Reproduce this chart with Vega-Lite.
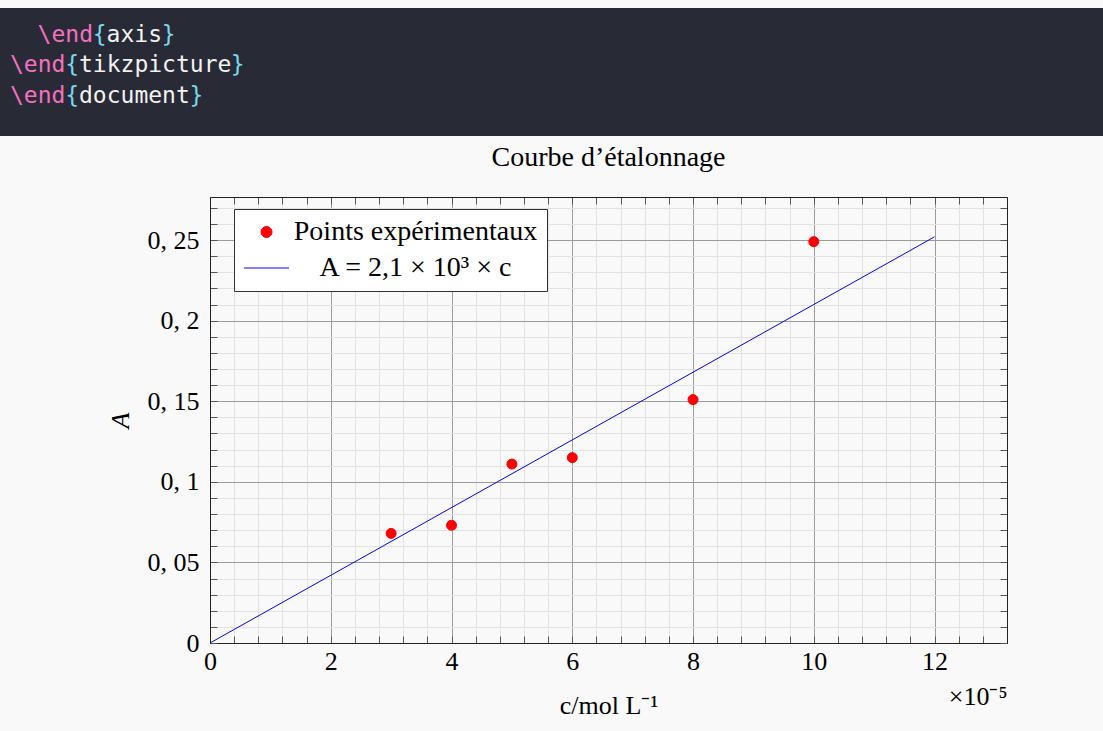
{
  "$schema": "https://vega.github.io/schema/vega-lite/v6.json",
  "background": "#f9f9f9",
  "padding": {"top": 8, "left": 0, "right": 0, "bottom": 30},
  "spacing": 7,
  "resolve": {"scale": {"color": "independent", "stroke": "independent", "shape": "independent"}, "legend": {"color": "independent", "stroke": "independent", "shape": "independent"}},
  "datasets": {
    "code": [
      {"line": 1, "col": 2, "txt": "\\end", "kind": "cmd"},
      {"line": 1, "col": 6, "txt": "{", "kind": "brace"},
      {"line": 1, "col": 7, "txt": "axis", "kind": "word"},
      {"line": 1, "col": 11, "txt": "}", "kind": "brace"},
      {"line": 2, "col": 0, "txt": "\\end", "kind": "cmd"},
      {"line": 2, "col": 4, "txt": "{", "kind": "brace"},
      {"line": 2, "col": 5, "txt": "tikzpicture", "kind": "word"},
      {"line": 2, "col": 16, "txt": "}", "kind": "brace"},
      {"line": 3, "col": 0, "txt": "\\end", "kind": "cmd"},
      {"line": 3, "col": 4, "txt": "{", "kind": "brace"},
      {"line": 3, "col": 5, "txt": "document", "kind": "word"},
      {"line": 3, "col": 13, "txt": "}", "kind": "brace"}
    ],
    "points": [
      {"c": 3, "A": 0.068, "serie": "Points expérimentaux"},
      {"c": 4, "A": 0.073, "serie": "Points expérimentaux"},
      {"c": 5, "A": 0.111, "serie": "Points expérimentaux"},
      {"c": 6, "A": 0.115, "serie": "Points expérimentaux"},
      {"c": 8, "A": 0.151, "serie": "Points expérimentaux"},
      {"c": 10, "A": 0.249, "serie": "Points expérimentaux"}
    ],
    "fit": [
      {"c": 0, "A": 0},
      {"c": 12, "A": 0.252}
    ]
  },
  "vconcat": [
    {
      "width": 1103,
      "height": 128,
      "view": {"fill": "#282a36", "stroke": null},
      "data": {"name": "code"},
      "mark": {"type": "text", "font": "DejaVu Sans Mono", "fontSize": 23, "align": "left", "baseline": "alphabetic"},
      "encoding": {
        "x": {"field": "col", "type": "quantitative", "scale": {"domain": [-0.725, 79.2], "nice": false, "zero": false}, "axis": null},
        "y": {"field": "line", "type": "quantitative", "scale": {"domain": [-0.0894, 4.073], "nice": false, "zero": false, "reverse": true}, "axis": null},
        "text": {"field": "txt"},
        "color": {"field": "kind", "type": "nominal", "scale": {"domain": ["cmd", "brace", "word"], "range": ["#f272c0", "#79d7ef", "#f2f2f2"]}, "legend": null}
      }
    },
    {
      "bounds": "flush",
      "spacing": 10,
      "resolve": {"scale": {"color": "independent", "stroke": "independent", "shape": "independent"}, "legend": {"color": "independent", "stroke": "independent", "shape": "independent"}},
      "hconcat": [
        {
          "width": 200,
          "height": 446,
          "view": {"stroke": null},
          "data": {"values": [{}]},
          "mark": {"type": "point", "opacity": 0}
        },
        {
          "width": 797,
          "height": 446,
          "view": {"stroke": null},
          "title": {"text": "Courbe d’étalonnage", "font": "Liberation Serif", "fontSize": 28, "fontWeight": "normal", "color": "#000000", "anchor": "middle", "frame": "group", "baseline": "alphabetic", "offset": 3},
          "resolve": {"axis": {"x": "independent", "y": "independent"}},
          "layer": [
            {
              "data": {"name": "fit"},
              "mark": {"type": "line", "opacity": 0},
              "encoding": {
                "x": {"field": "c", "type": "quantitative", "scale": {"domain": [0, 13.2], "nice": false, "zero": false},
                  "axis": {"orient": "bottom", "values": [0, 0.4, 0.8, 1.2, 1.6, 2, 2.4, 2.8, 3.2, 3.6, 4, 4.4, 4.8, 5.2, 5.6, 6, 6.4, 6.8, 7.2, 7.6, 8, 8.4, 8.8, 9.2, 9.6, 10, 10.4, 10.8, 11.2, 11.6, 12, 12.4, 12.8, 13.2],
                    "grid": true, "gridColor": "#e2e2e2", "gridWidth": 1, "labels": false, "domain": false, "ticks": true, "tickSize": -7, "tickColor": "#555555", "tickWidth": 1, "title": null}},
                "y": {"field": "A", "type": "quantitative", "scale": {"domain": [0, 0.2767], "nice": false, "zero": false},
                  "axis": {"orient": "left", "values": [0, 0.01, 0.02, 0.03, 0.04, 0.05, 0.06, 0.07, 0.08, 0.09, 0.1, 0.11, 0.12, 0.13, 0.14, 0.15, 0.16, 0.17, 0.18, 0.19, 0.2, 0.21, 0.22, 0.23, 0.24, 0.25, 0.26, 0.27],
                    "grid": true, "gridColor": "#e2e2e2", "gridWidth": 1, "labels": false, "domain": false, "ticks": true, "tickSize": -7, "tickColor": "#555555", "tickWidth": 1, "title": null}}
              }
            },
            {
              "data": {"name": "fit"},
              "mark": {"type": "line", "opacity": 0},
              "encoding": {
                "x": {"field": "c", "type": "quantitative", "scale": {"domain": [0, 13.2], "nice": false, "zero": false},
                  "axis": {"orient": "top", "values": [0, 0.4, 0.8, 1.2, 1.6, 2, 2.4, 2.8, 3.2, 3.6, 4, 4.4, 4.8, 5.2, 5.6, 6, 6.4, 6.8, 7.2, 7.6, 8, 8.4, 8.8, 9.2, 9.6, 10, 10.4, 10.8, 11.2, 11.6, 12, 12.4, 12.8, 13.2],
                    "grid": false, "labels": false, "domain": true, "domainColor": "#222222", "domainWidth": 1, "ticks": true, "tickSize": -7, "tickColor": "#555555", "tickWidth": 1, "title": null}},
                "y": {"field": "A", "type": "quantitative", "scale": {"domain": [0, 0.2767], "nice": false, "zero": false},
                  "axis": {"orient": "right", "values": [0, 0.01, 0.02, 0.03, 0.04, 0.05, 0.06, 0.07, 0.08, 0.09, 0.1, 0.11, 0.12, 0.13, 0.14, 0.15, 0.16, 0.17, 0.18, 0.19, 0.2, 0.21, 0.22, 0.23, 0.24, 0.25, 0.26, 0.27],
                    "grid": false, "labels": false, "domain": true, "domainColor": "#222222", "domainWidth": 1, "ticks": true, "tickSize": -7, "tickColor": "#555555", "tickWidth": 1, "title": null}}
              }
            },
            {
              "data": {"name": "fit"},
              "mark": {"type": "line", "opacity": 0},
              "encoding": {
                "x": {"field": "c", "type": "quantitative", "scale": {"domain": [0, 13.2], "nice": false, "zero": false},
                  "axis": {"orient": "bottom", "grid": false, "labels": false, "domain": false, "ticks": false, "title": "×10⁻⁵", "titleAnchor": "end", "titleY": 40, "titleBaseline": "top", "titleFont": "Liberation Serif", "titleFontSize": 26, "titleFontWeight": "normal", "titleColor": "#000000"}},
                "y": {"field": "A", "type": "quantitative", "scale": {"domain": [0, 0.2767], "nice": false, "zero": false}, "axis": null}
              }
            },
            {
              "data": {"name": "fit"},
              "mark": {"type": "line", "color": "#0000ff", "strokeWidth": 1},
              "encoding": {
                "x": {"field": "c", "type": "quantitative", "scale": {"domain": [0, 13.2], "nice": false, "zero": false},
                  "axis": {"orient": "bottom", "values": [0, 2, 4, 6, 8, 10, 12], "format": "d", "grid": true, "gridColor": "#9c9c9c", "gridWidth": 1, "labels": true, "labelFlush": false, "labelFont": "Liberation Serif", "labelFontSize": 26, "labelColor": "#000000", "labelPadding": 5, "domain": true, "domainColor": "#222222", "domainWidth": 1, "ticks": false, "tickSize": 0,
                    "title": "c/mol L⁻¹", "titleFont": "Liberation Serif", "titleFontSize": 26, "titleFontWeight": "normal", "titleColor": "#000000", "titlePadding": 18}},
                "y": {"field": "A", "type": "quantitative", "scale": {"domain": [0, 0.2767], "nice": false, "zero": false},
                  "axis": {"orient": "left", "values": [0, 0.05, 0.1, 0.15, 0.2, 0.25], "labelExpr": "replace(format(datum.value, '.2~f'), '.', ', ')", "grid": true, "gridColor": "#9c9c9c", "gridWidth": 1, "labels": true, "labelFont": "Liberation Serif", "labelFontSize": 26, "labelColor": "#000000", "labelPadding": 11, "domain": true, "domainColor": "#222222", "domainWidth": 1, "ticks": false, "tickSize": 0,
                    "title": "A", "titleFont": "Liberation Serif", "titleFontSize": 26, "titleFontStyle": "italic", "titleFontWeight": "normal", "titleColor": "#000000", "titlePadding": 14}}
              }
            },
            {
              "data": {"name": "points"},
              "mark": {"type": "point", "filled": true, "size": 100, "opacity": 1, "strokeWidth": 1},
              "encoding": {
                "x": {"field": "c", "type": "quantitative", "scale": {"domain": [0, 13.2], "nice": false, "zero": false}, "axis": null},
                "y": {"field": "A", "type": "quantitative", "scale": {"domain": [0, 0.2767], "nice": false, "zero": false}, "axis": null},
                "color": {"field": "serie", "type": "nominal",
                  "scale": {"domain": ["Points expérimentaux", "A = 2,1 × 10³ × c"], "range": ["#ff0000", "#0000ff"]},
                  "legend": {"orient": "none", "legendX": 24, "legendY": 12, "title": null, "fillColor": "#ffffff", "strokeColor": "#333333", "cornerRadius": 0, "padding": 9,
                    "symbolSize": 121, "symbolOffset": 9.5, "symbolStrokeWidth": 1,
                    "labelAlign": "center", "labelOffset": 135, "labelFont": "Liberation Serif", "labelFontSize": 28, "labelColor": "#000000", "labelLimit": 600, "rowPadding": 8}},
                "stroke": {"field": "serie", "type": "nominal",
                  "scale": {"domain": ["Points expérimentaux", "A = 2,1 × 10³ × c"], "range": ["#ff0000", "#0000ff"]},
                  "legend": {"orient": "none", "legendX": 24, "legendY": 12, "title": null, "fillColor": "#ffffff", "strokeColor": "#333333", "cornerRadius": 0, "padding": 9,
                    "symbolSize": 121, "symbolOffset": 9.5, "symbolStrokeWidth": 1,
                    "labelAlign": "center", "labelOffset": 135, "labelFont": "Liberation Serif", "labelFontSize": 28, "labelColor": "#000000", "labelLimit": 600, "rowPadding": 8}},
                "shape": {"field": "serie", "type": "nominal",
                  "scale": {"domain": ["Points expérimentaux", "A = 2,1 × 10³ × c"], "range": ["circle", "M-4.09,0H4.09"]},
                  "legend": {"orient": "none", "legendX": 24, "legendY": 12, "title": null, "fillColor": "#ffffff", "strokeColor": "#333333", "cornerRadius": 0, "padding": 9,
                    "symbolSize": 121, "symbolOffset": 9.5, "symbolStrokeWidth": 1,
                    "labelAlign": "center", "labelOffset": 135, "labelFont": "Liberation Serif", "labelFontSize": 28, "labelColor": "#000000", "labelLimit": 600, "rowPadding": 8}}
              }
            }
          ]
        }
      ]
    }
  ]
}
